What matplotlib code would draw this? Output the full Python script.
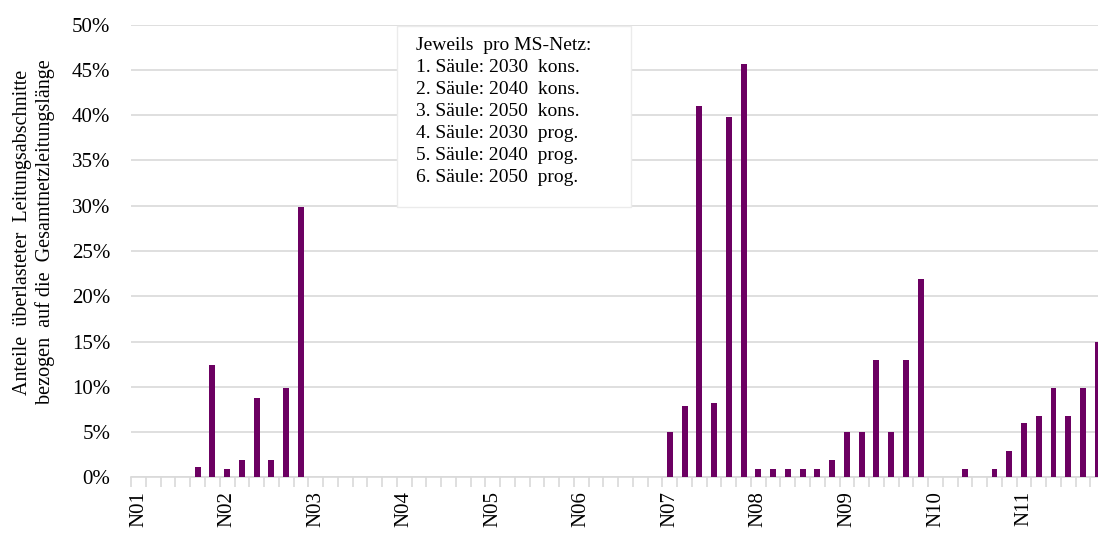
import numpy as np
import matplotlib
matplotlib.use("Agg")
import matplotlib.pyplot as plt
from matplotlib.patches import Rectangle

# Values in percent, six bars per MS network
networks = ["N01", "N02", "N03", "N04", "N05", "N06", "N07", "N08", "N09", "N10", "N11"]
n01 = [0, 0, 0, 0, 1.1, 12.4]
n02 = [0.9, 1.9, 8.8, 1.9, 9.9, 29.9]
n03 = [0, 0, 0, 0, 0, 0]
n04 = [0, 0, 0, 0, 0, 0]
n05 = [0, 0, 0, 0, 0, 0]
n06 = [0, 0, 0, 0, 0, 0]
n07 = [5.0, 7.9, 41.0, 8.2, 39.8, 45.7]
n08 = [0.9, 0.9, 0.9, 0.9, 0.9, 1.9]
n09 = [5.0, 5.0, 13.0, 5.0, 13.0, 21.9]
n10 = [0, 0, 0.9, 0, 0.9, 2.9]
n11 = [6.0, 6.8, 9.9, 6.8, 9.9, 15.0]

values = np.concatenate([n01, n02, n03, n04, n05, n06, n07, n08, n09, n10, n11]) / 100.0
x = np.arange(len(values))

legend_lines = [
    "Jeweils  pro MS-Netz:",
    "1. Säule: 2030  kons.",
    "2. Säule: 2040  kons.",
    "3. Säule: 2050  kons.",
    "4. Säule: 2030  prog.",
    "5. Säule: 2040  prog.",
    "6. Säule: 2050  prog.",
]

plt.rcParams["font.family"] = ["Liberation Serif", "DejaVu Serif"]

fig = plt.figure(figsize=(10.98, 5.33), dpi=100)
# the plot area runs a little past the right edge, as in the original
ax = fig.add_axes([0.1195, 0.1045, 0.887, 0.8492])

ax.bar(x, values, width=0.4, color="#6C0062", zorder=3)

ax.set_xlim(-0.5, len(values) - 0.5)
ax.set_ylim(0, 0.5)
yt = np.arange(0, 0.51, 0.05)
ax.set_yticks(yt)
ax.set_yticklabels([f"{int(round(v * 100))}%" for v in yt], fontsize=15)
ax.grid(axis="y", color="#D9D9D9", linewidth=1.2, zorder=0)
ax.tick_params(axis="y", length=0, pad=15)

ax.set_xticks(x[::6])
ax.set_xticklabels(networks, rotation=90, fontsize=15)
ax.set_xticks(np.arange(-0.5, len(values), 1), minor=True)
ax.tick_params(axis="x", which="major", length=0, pad=10)
ax.tick_params(axis="x", which="minor", length=7, color="#D9D9D9", width=1.2)

for side in ["left", "right", "top"]:
    ax.spines[side].set_visible(False)
ax.spines["bottom"].set_color("#D9D9D9")
ax.spines["bottom"].set_linewidth(1.2)

fig.text(34 / 1098, 1 - 232 / 533,
         "Anteile  überlasteter  Leitungsabschnitte\nbezogen  auf die  Gesamtnetzleitungslänge",
         rotation=90, ha="center", va="center", multialignment="center",
         fontsize=14.5, linespacing=1.2)

# note box with the column order
fig.patches.append(Rectangle((397 / 1098, 1 - 207 / 533), 234 / 1098, 181 / 533,
                             transform=fig.transFigure, facecolor="white",
                             edgecolor="#EBEBEB", linewidth=1, zorder=5))
fig.text(416 / 1098, 1 - 37 / 533, "\n".join(legend_lines), fontsize=14,
         va="top", ha="left", linespacing=1.39, zorder=6)

fig.savefig("out.png", dpi=100)
